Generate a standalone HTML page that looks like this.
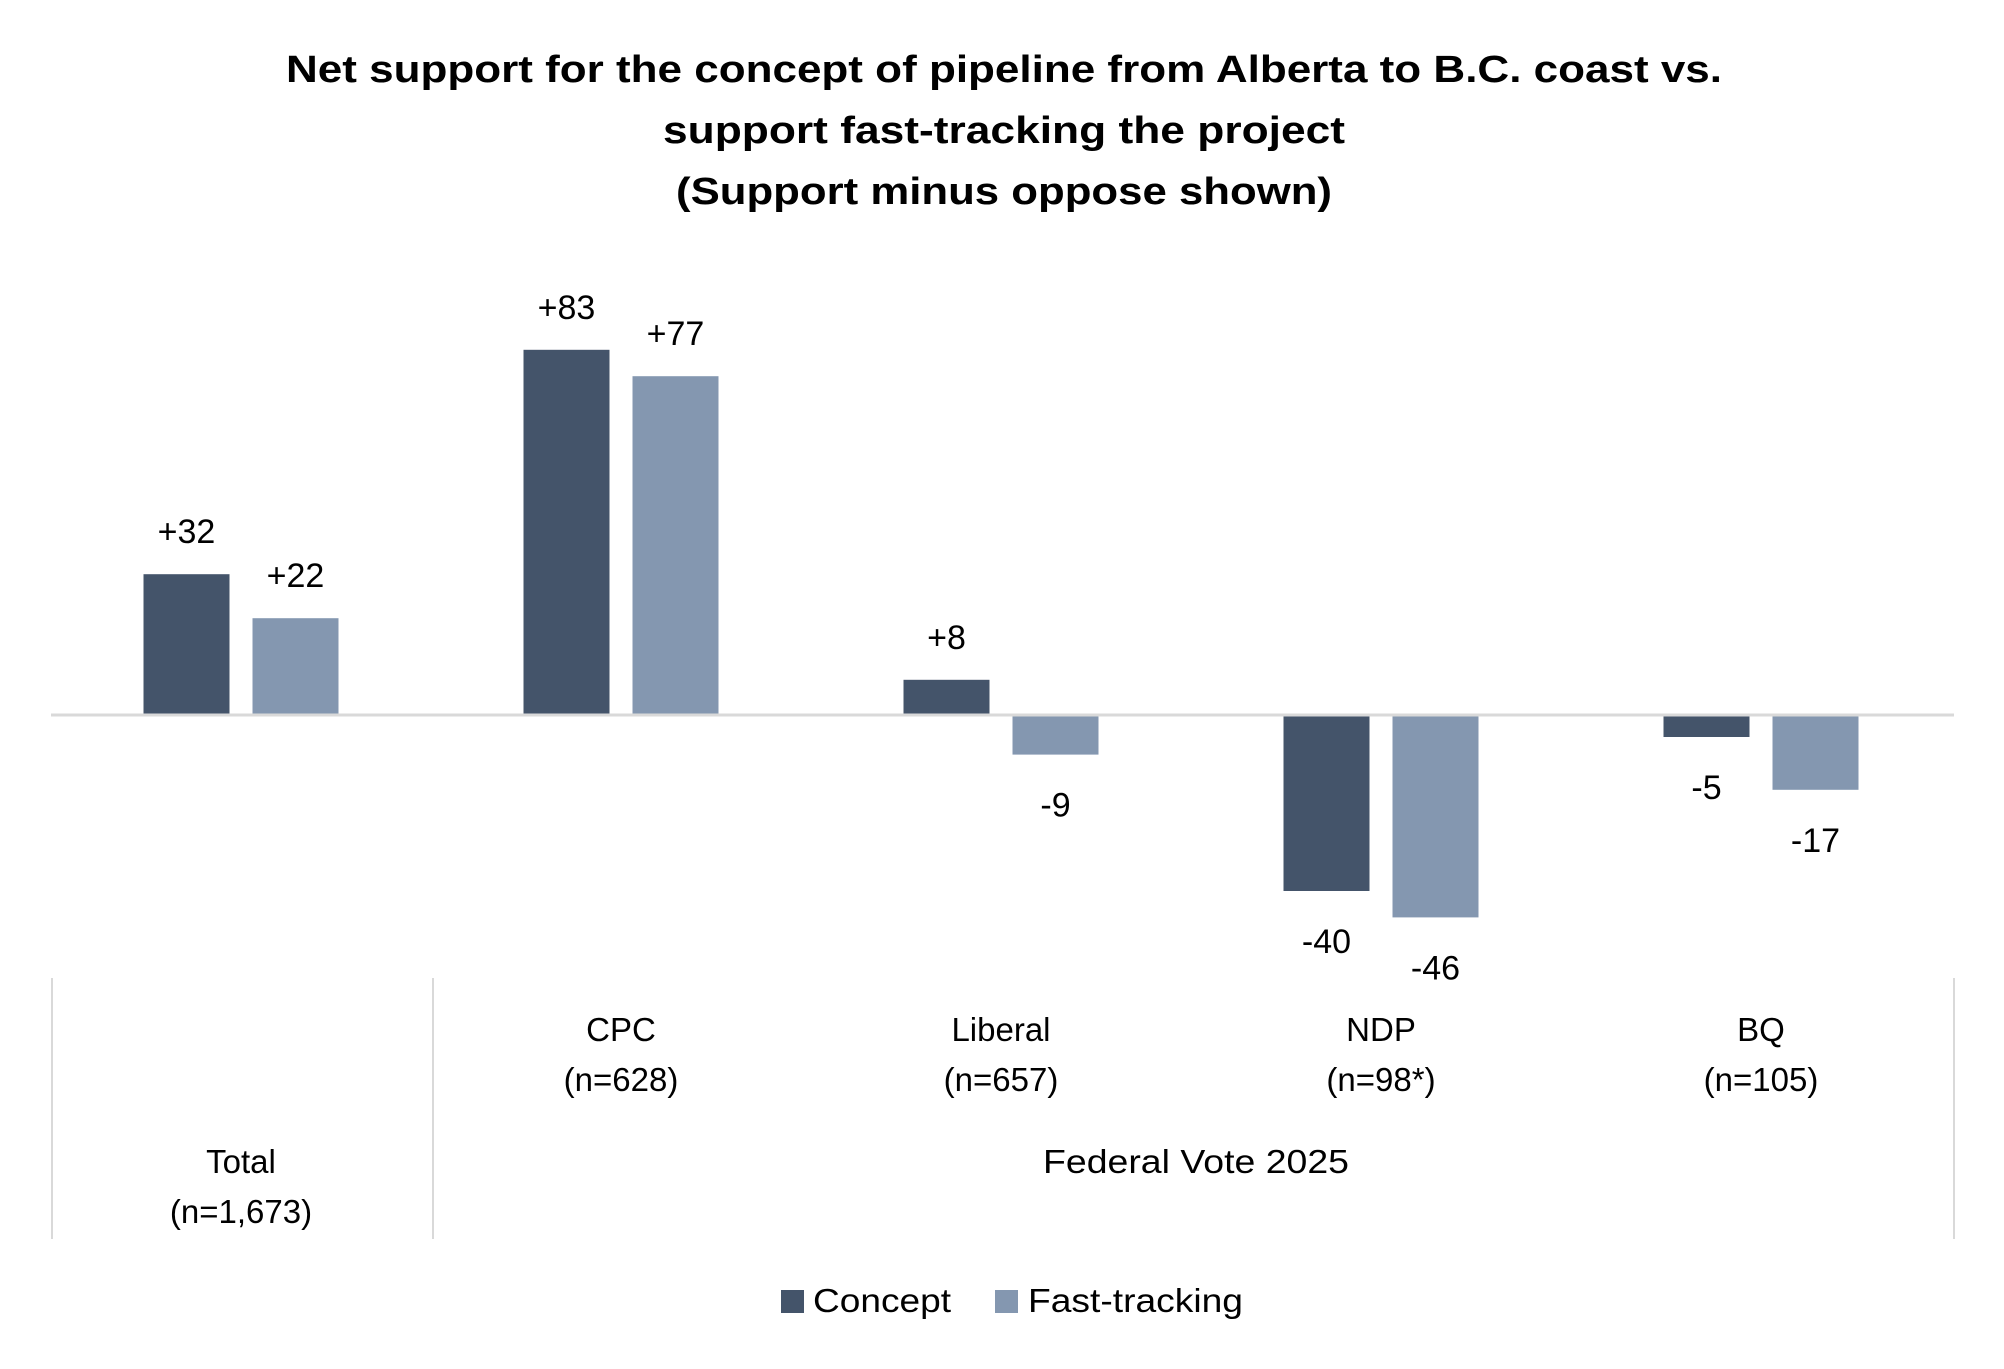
<!DOCTYPE html>
<html><head><meta charset="utf-8"><style>
html,body{margin:0;padding:0;background:#fff;}
svg{display:block;font-family:"Liberation Sans",sans-serif;}
</style></head><body>
<svg id="chart" width="2004" height="1369" viewBox="0 0 2004 1369">
<g font-weight="bold" font-size="38" text-anchor="middle" fill="#000">
<text x="1004" y="82" textLength="1436" lengthAdjust="spacingAndGlyphs">Net support for the concept of pipeline from Alberta to B.C. coast vs.</text>
<text x="1004" y="143" textLength="682" lengthAdjust="spacingAndGlyphs">support fast-tracking the project</text>
<text x="1004" y="204" textLength="656" lengthAdjust="spacingAndGlyphs">(Support minus oppose shown)</text>
</g>
<g id="bars"></g>
<line x1="51" y1="715" x2="1954" y2="715" stroke="#d9d9d9" stroke-width="3"/>
<g stroke="#d9d9d9" stroke-width="2">
<line x1="52" y1="978" x2="52" y2="1239"/>
<line x1="433" y1="978" x2="433" y2="1239"/>
<line x1="1954" y1="978" x2="1954" y2="1239"/>
</g>
<g id="cats" font-size="33" text-anchor="middle" fill="#000"></g>
<text x="1196" y="1173" font-size="33" text-anchor="middle" textLength="306" lengthAdjust="spacingAndGlyphs">Federal Vote 2025</text>
<g font-size="33">
<rect x="781" y="1290" width="23" height="23" fill="#44546a"/>
<text x="813" y="1312" textLength="138" lengthAdjust="spacingAndGlyphs">Concept</text>
<rect x="995" y="1290" width="23" height="23" fill="#8497b0"/>
<text x="1028" y="1312" textLength="215" lengthAdjust="spacingAndGlyphs">Fast-tracking</text>
</g>
</svg>
<script>
const categories = ["Total", "CPC", "Liberal", "NDP", "BQ"];
const sampleSizes = ["(n=1,673)", "(n=628)", "(n=657)", "(n=98*)", "(n=105)"];
const conceptValues = [32, 83, 8, -40, -5];
const fastTrackValues = [22, 77, -9, -46, -17];

const NS = "http://www.w3.org/2000/svg";
const zeroY = 715, pxPerUnit = 4.4;
const groupStart = 241, groupStep = 380, barW = 86, gap = 23;
function yScale(v){ return zeroY - v * pxPerUnit; }
function xCenter(i){ return groupStart + i * groupStep; }
function fmt(v){ return v > 0 ? "+" + v : String(v); }

const barsG = document.getElementById("bars");
const series = [
  {vals: conceptValues, color: "#44546a", name: "concept", off: -(barW/2 + gap/2)},
  {vals: fastTrackValues, color: "#8497b0", name: "fast-tracking", off: (barW/2 + gap/2)}
];
series.forEach(s => {
  s.vals.forEach((v, i) => {
    const cx = xCenter(i) + s.off;
    const y0 = Math.min(yScale(v), zeroY), h = Math.abs(yScale(v) - zeroY);
    const r = document.createElementNS(NS, "rect");
    r.setAttribute("x", cx - barW/2);
    r.setAttribute("y", y0);
    r.setAttribute("width", barW);
    r.setAttribute("height", h);
    r.setAttribute("fill", s.color);
    
    
    barsG.appendChild(r);
    const t = document.createElementNS(NS, "text");
    t.setAttribute("x", cx);
    t.setAttribute("y", v >= 0 ? yScale(v) - 31 : yScale(v) + 62);
    t.setAttribute("font-size", "34");
    t.setAttribute("text-anchor", "middle");
    t.textContent = fmt(v);
    
    
    barsG.appendChild(t);
  });
});

const catsG = document.getElementById("cats");
categories.forEach((c, i) => {
  const isTotal = i === 0;
  const y1 = isTotal ? 1173 : 1041, y2 = isTotal ? 1223 : 1091;
  const a = document.createElementNS(NS, "text");
  a.setAttribute("x", xCenter(i));
  a.setAttribute("y", y1);
  a.textContent = c;
  
  
  catsG.appendChild(a);
  const b = document.createElementNS(NS, "text");
  b.setAttribute("x", xCenter(i));
  b.setAttribute("y", y2);
  b.textContent = sampleSizes[i];
  
  
  catsG.appendChild(b);
});
</script>
</body></html>
